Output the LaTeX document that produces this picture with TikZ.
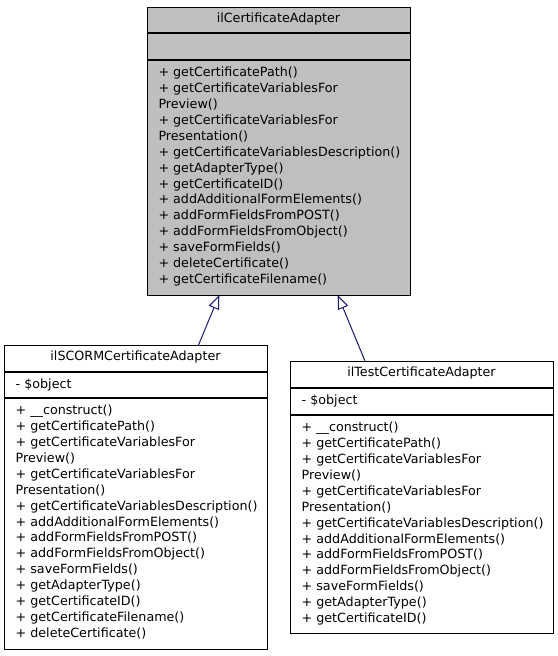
\documentclass[tikz,border=0pt]{standalone}
\usepackage{fontspec}
\setmainfont{DejaVu Sans}
\usetikzlibrary{arrows.meta}
\definecolor{boxgray}{HTML}{BFBFBF}
\definecolor{edgeblue}{HTML}{191970}
\tikzset{
  clsbox/.style={draw=black, line width=1pt, rectangle, inner sep=0pt, anchor=north west},
  sepline/.style={draw=black, line width=1.6pt},
  txt/.style={inner sep=0pt, anchor=base west, font=\fontsize{12.7}{15.9}\selectfont},
  ttl/.style={inner sep=0pt, anchor=base, font=\fontsize{12.7}{15.9}\selectfont},
  inherit/.style={draw=edgeblue, line width=1pt, -{Triangle[open, length=14pt, width=11pt, fill=white]}}
}
\begin{document}
\begin{tikzpicture}[x=1pt,y=1pt]
\useasboundingbox (0,0) rectangle (557,-656);
% base class
\node[clsbox, fill=boxgray, minimum width=263pt, minimum height=288pt] (base) at (147,-7) {};
\draw[sepline] (147,-33) -- (410,-33);
\draw[sepline] (147,-60) -- (410,-60);
\node[ttl] (baseT) at (278.5,-22.8) {ilCertificateAdapter};
\foreach \t [count=\i] in {
  + getCertificatePath(),
  + getCertificateVariablesFor,
  Preview(),
  + getCertificateVariablesFor,
  Presentation(),
  + getCertificateVariablesDescription(),
  + getAdapterType(),
  + getCertificateID(),
  + addAdditionalFormElements(),
  + addFormFieldsFromPOST(),
  + addFormFieldsFromObject(),
  + saveFormFields(),
  + deleteCertificate(),
  + getCertificateFilename()}
  \node[txt] (bm\i) at (158.3,{-76.7-(\i-1)*15.9}) {\t};
% SCORM adapter
\node[clsbox, fill=white, minimum width=263pt, minimum height=304pt] (scorm) at (4,-345) {};
\draw[sepline] (4,-372) -- (267,-372);
\draw[sepline] (4,-398) -- (267,-398);
\node[ttl] (scormT) at (135.5,-360.8) {ilSCORMCertificateAdapter};
\node[txt] (scormA) at (15.5,-388.7) {- \$object};
\foreach \t [count=\i] in {
  + \_\_construct(),
  + getCertificatePath(),
  + getCertificateVariablesFor,
  Preview(),
  + getCertificateVariablesFor,
  Presentation(),
  + getCertificateVariablesDescription(),
  + addAdditionalFormElements(),
  + addFormFieldsFromPOST(),
  + addFormFieldsFromObject(),
  + saveFormFields(),
  + getAdapterType(),
  + getCertificateID(),
  + getCertificateFilename(),
  + deleteCertificate()}
  \node[txt] (sm\i) at (15.5,{-414.7-(\i-1)*15.9}) {\t};
% Test adapter
\node[clsbox, fill=white, minimum width=263pt, minimum height=272pt] (test) at (290,-361) {};
\draw[sepline] (290,-388) -- (553,-388);
\draw[sepline] (290,-415) -- (553,-415);
\node[ttl] (testT) at (421.5,-376.8) {ilTestCertificateAdapter};
\node[txt] (testA) at (301.5,-404.7) {- \$object};
\foreach \t [count=\i] in {
  + \_\_construct(),
  + getCertificatePath(),
  + getCertificateVariablesFor,
  Preview(),
  + getCertificateVariablesFor,
  Presentation(),
  + getCertificateVariablesDescription(),
  + addAdditionalFormElements(),
  + addFormFieldsFromPOST(),
  + addFormFieldsFromObject(),
  + saveFormFields(),
  + getAdapterType(),
  + getCertificateID()}
  \node[txt] (tm\i) at (301.5,{-431.7-(\i-1)*15.9}) {\t};
% inheritance arrows
\coordinate (s1) at (198.5,-345);
\coordinate (t1) at (219.3,-295);
\coordinate (s2) at (365,-361);
\coordinate (t2) at (337.7,-295);
\draw[inherit] (s1) -- (t1);
\draw[inherit] (s2) -- (t2);
\end{tikzpicture}
\end{document}
